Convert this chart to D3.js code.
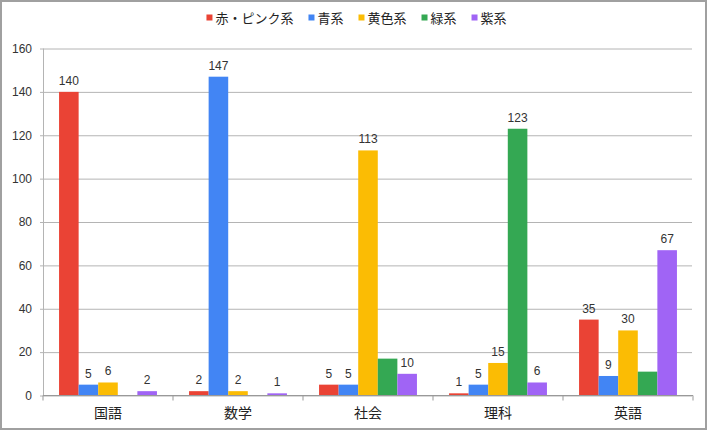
<!DOCTYPE html>
<html>
<head>
<meta charset="utf-8">
<script src="https://cdn.jsdelivr.net/npm/d3@7"></script>
<style>
  body { margin: 0; background: #fff; }
  svg text { font-family: "Liberation Sans", Arial, "Noto Sans CJK JP", sans-serif; }
</style>
</head>
<body>
<div id="chart"></div>
<script>
// data
const subjects = ['国語', '数学', '社会', '理科', '英語']
const seriesNames = ['赤・ピンク系', '青系', '黄色系', '緑系', '紫系']
const seriesColors = ['#ea4335', '#4285f4', '#fbbc04', '#34a853', '#a064f5']
const red = [140, 2, 5, 1, 35]
const blue = [5, 147, 5, 5, 9]
const yellow = [6, 2, 113, 15, 30]
const green = [0, 0, 17, 123, 11]
const purple = [2, 1, 10, 6, 67]
const yTicks = [0, 20, 40, 60, 80, 100, 120, 140, 160]
// labels that are not shown in the original (series index, subject index)
const hiddenLabels = [[3, 0], [3, 1], [3, 2], [3, 4]]

const series = [red, blue, yellow, green, purple]

const width = 710
const height = 432
const margin = { top: 48.5, right: 17, bottom: 36.5, left: 43 }

const svg = d3.select('#chart').append('svg')
    .attr('width', width)
    .attr('height', height)

// outer frame
svg.append('rect')
    .attr('x', 1)
    .attr('y', 1)
    .attr('width', width - 5)
    .attr('height', height - 4)
    .attr('fill', '#fff')
    .attr('stroke', '#a0a0a0')
    .attr('stroke-width', 2)

const x = d3.scaleBand()
    .domain(subjects)
    .range([margin.left, width - margin.right])

const inner = d3.scaleBand()
    .domain(d3.range(seriesNames.length))
    .range([0, x.bandwidth()])
    .paddingOuter(0.82)

const y = d3.scaleLinear()
    .domain([0, 160])
    .range([height - margin.bottom, margin.top])

// gridlines + y axis
const yAxis = svg.append('g')
    .attr('transform', 'translate(' + margin.left + ',0)')
    .call(d3.axisLeft(y)
        .tickValues(yTicks)
        .tickSize(-(width - margin.right - margin.left - 1))
        .tickSizeOuter(0)
        .tickPadding(11))
yAxis.select('.domain').remove()
yAxis.selectAll('.tick line')
    .attr('x1', -3)
    .attr('stroke', '#b4b4b4')
yAxis.selectAll('.tick text')
    .attr('font-size', 12)
    .attr('fill', '#333')

svg.append('line')
    .attr('x1', margin.left + 0.5)
    .attr('x2', margin.left + 0.5)
    .attr('y1', y(160))
    .attr('y2', y(0))
    .attr('stroke', '#b4b4b4')

// bars
const groups = svg.append('g')
    .selectAll('g')
    .data(series)
    .join('g')
    .attr('fill', (d, i) => seriesColors[i])

groups.selectAll('rect')
    .data((d, i) => d.map((v, j) => ({ v: v, s: i, c: j })))
    .join('rect')
    .attr('x', (d) => x(subjects[d.c]) + inner(d.s))
    .attr('y', (d) => y(d.v))
    .attr('width', inner.bandwidth())
    .attr('height', (d) => y(0) - y(d.v))

// value labels
function isHidden(d) {
    return hiddenLabels.some((h) => h[0] === d.s && h[1] === d.c)
}

svg.append('g')
    .selectAll('text')
    .data(series.flatMap((d, i) => d.map((v, j) => ({ v: v, s: i, c: j }))).filter((d) => !isHidden(d)))
    .join('text')
    .attr('x', (d) => x(subjects[d.c]) + inner(d.s) + inner.bandwidth() / 2)
    .attr('y', (d) => y(d.v) - 7)
    .attr('text-anchor', 'middle')
    .attr('font-size', 12)
    .attr('fill', '#333')
    .text((d) => d.v)

// x axis
const xAxis = svg.append('g')
    .attr('transform', 'translate(0,' + y(0) + ')')
xAxis.append('line')
    .attr('x1', margin.left)
    .attr('x2', width - margin.right)
    .attr('stroke', '#999')
xAxis.selectAll('.sep')
    .data(subjects.map((s) => x(s)).concat([width - margin.right]))
    .join('line')
    .attr('class', 'sep')
    .attr('x1', (d) => d)
    .attr('x2', (d) => d)
    .attr('y1', 0)
    .attr('y2', 5)
    .attr('stroke', '#999')
xAxis.selectAll('.cat')
    .data(subjects)
    .join('text')
    .attr('class', 'cat')
    .attr('x', (d) => x(d) + x.bandwidth() / 2)
    .attr('y', 22.5)
    .attr('text-anchor', 'middle')
    .attr('font-size', 14)
    .attr('fill', '#222')
    .text((d) => d)

// legend
const legend = svg.append('g')
const items = legend.selectAll('g')
    .data(seriesNames)
    .join('g')
items.append('rect')
    .attr('width', 6)
    .attr('height', 6)
    .attr('y', 14.5)
    .attr('fill', (d, i) => seriesColors[i])
items.append('text')
    .attr('x', 9)
    .attr('y', 22.5)
    .attr('font-size', 13)
    .attr('fill', '#222')
    .text((d) => d)

let cursor = 0
items.each(function () {
    const w = d3.select(this).select('text').node().getComputedTextLength()
    d3.select(this).attr('data-x', cursor)
    cursor += 9 + w + 15
})
const total = cursor - 15
const start = 356.5 - total / 2
items.attr('transform', function () {
    return 'translate(' + (start + +d3.select(this).attr('data-x')) + ',0)'
})
</script>
</body>
</html>
